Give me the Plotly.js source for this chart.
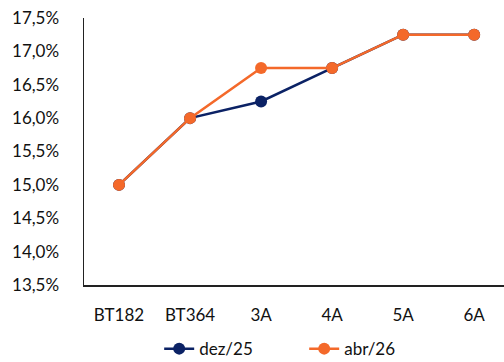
<!DOCTYPE html>
<html>
<head>
<meta charset="utf-8">
<script src="https://cdn.plot.ly/plotly-3.0.1.min.js"></script>
<style>
  html, body { margin: 0; padding: 0; background: #fff; }
  #chart { width: 504px; height: 362px; }
</style>
</head>
<body>
<div id="chart"></div>
<script>
// Yield curve by maturity, two reference dates (%)
const maturities = ["BT182", "BT364", "3A", "4A", "5A", "6A"];
const dez25 = [15.0, 16.0, 16.25, 16.75, 17.25, 17.25];
const abr26 = [15.0, 16.0, 16.75, 16.75, 17.25, 17.25];
const seriesNames = ["dez/25", "abr/26"];
const yTicks = [13.5, 14.0, 14.5, 15.0, 15.5, 16.0, 16.5, 17.0, 17.5];
const yTickText = yTicks.map(v => v.toFixed(1).replace(".", ",") + "%");

const NAVY = "#0b2265";
const ORANGE = "#f4692a";
const FONT = "Lato, 'Open Sans', sans-serif";
const TEXT = "#111";

const xIdx = maturities.map((_, i) => i);

const traces = [
  {
    x: xIdx, y: dez25, name: seriesNames[0],
    type: "scatter", mode: "lines+markers",
    line: { color: NAVY, width: 2.5 },
    marker: { color: NAVY, size: 12 },
    cliponaxis: false
  },
  {
    x: xIdx, y: abr26, name: seriesNames[1],
    type: "scatter", mode: "lines+markers",
    line: { color: ORANGE, width: 2.5 },
    marker: { color: ORANGE, size: 12 },
    cliponaxis: false
  }
];

const layout = {
  width: 504, height: 362,
  margin: { l: 84, r: 0, t: 18, b: 77, autoexpand: false },
  paper_bgcolor: "#fff", plot_bgcolor: "#fff",
  font: { family: FONT, size: 17, color: TEXT },
  showlegend: true,
  legend: {
    orientation: "h", x: 0.179, xanchor: "left", y: -0.24, yanchor: "middle",
    font: { family: FONT, size: 17, color: TEXT },
    traceorder: "normal", entrywidth: 100, entrywidthmode: "pixels"
  },
  xaxis: {
    range: [-0.493, 5.42],
    tickvals: xIdx, ticktext: maturities,
    showgrid: false, zeroline: false,
    showline: true, linecolor: "#222", linewidth: 1.5,
    ticks: "outside", ticklen: 14, tickcolor: "rgba(0,0,0,0)",
    tickfont: { family: FONT, size: 17, color: TEXT }
  },
  yaxis: {
    range: [13.5, 17.5],
    tickvals: yTicks, ticktext: yTickText,
    showgrid: false, zeroline: false,
    showline: true, linecolor: "#222", linewidth: 1.5,
    ticks: "outside", ticklen: 20, tickcolor: "rgba(0,0,0,0)",
    tickfont: { family: FONT, size: 17, color: TEXT }
  }
};

Plotly.newPlot("chart", traces, layout, { displayModeBar: false, staticPlot: true });
</script>
</body>
</html>
